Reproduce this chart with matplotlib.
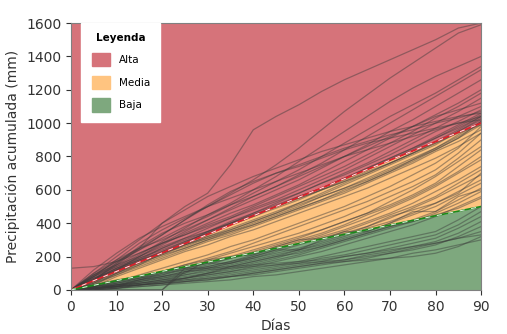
import numpy as np
import matplotlib
matplotlib.use("Agg")
from matplotlib import pyplot as plt
from matplotlib.patches import Patch

# days sampled every 5 days
dias = [0, 5, 10, 15, 20, 25, 30, 35, 40, 45, 50, 55, 60, 65, 70, 75, 80, 85, 90]

# boundaries between categories (mm)
limite_dias = [0, 90]
limite_media = [0, 1000]
limite_baja = [0, 500]

# cumulative precipitation traces (mm)
alta = [
    [0, 60, 150, 250, 400, 500, 580, 750, 960, 1040, 1110, 1190, 1260, 1320, 1380, 1440, 1500, 1570, 1600],
    [0, 80, 160, 240, 330, 420, 500, 580, 660, 750, 850, 960, 1070, 1170, 1270, 1360, 1450, 1540, 1590],
    [0, 70, 140, 210, 290, 370, 450, 520, 600, 680, 770, 860, 950, 1040, 1130, 1210, 1280, 1340, 1400],
    [0, 90, 170, 240, 310, 380, 440, 510, 580, 650, 720, 800, 880, 960, 1040, 1110, 1180, 1260, 1340],
    [0, 50, 120, 200, 280, 350, 420, 490, 560, 620, 690, 760, 840, 920, 1000, 1080, 1160, 1240, 1320],
    [0, 100, 180, 250, 300, 360, 420, 480, 540, 600, 660, 730, 800, 870, 950, 1020, 1100, 1180, 1260],
    [0, 60, 130, 200, 270, 340, 400, 460, 510, 570, 630, 700, 770, 840, 910, 980, 1050, 1120, 1200],
    [0, 80, 150, 220, 280, 330, 390, 440, 500, 560, 620, 680, 740, 810, 880, 950, 1030, 1100, 1180],
    [0, 50, 110, 180, 250, 310, 370, 430, 490, 540, 600, 660, 720, 790, 860, 930, 1000, 1070, 1150],
    [0, 40, 120, 190, 250, 300, 350, 400, 460, 520, 580, 640, 700, 760, 830, 900, 970, 1040, 1100],
    [130, 140, 170, 220, 280, 330, 380, 430, 480, 530, 580, 640, 690, 750, 810, 880, 950, 1010, 1080],
    [0, 60, 130, 180, 230, 290, 340, 400, 450, 500, 560, 610, 670, 730, 790, 850, 920, 990, 1060],
    [0, 80, 140, 190, 240, 290, 340, 390, 440, 490, 540, 600, 660, 720, 780, 840, 910, 980, 1050],
    [0, 50, 100, 160, 210, 270, 320, 370, 420, 470, 520, 580, 640, 700, 760, 820, 890, 960, 1040],
    [0, 70, 120, 170, 220, 270, 310, 360, 410, 460, 520, 570, 630, 690, 750, 810, 870, 950, 1020],
    [0, 30, 100, 150, 200, 250, 300, 350, 400, 450, 500, 560, 610, 670, 730, 790, 850, 920, 1000],
    [0, 60, 110, 160, 210, 250, 300, 340, 390, 440, 490, 540, 600, 650, 710, 770, 840, 910, 990],
    [0, 40, 90, 140, 190, 240, 290, 330, 380, 430, 480, 530, 580, 640, 700, 760, 830, 890, 960],
    [0, 20, 80, 130, 180, 230, 270, 320, 360, 410, 460, 510, 560, 610, 670, 730, 790, 860, 940],
    [0, 70, 130, 180, 220, 270, 320, 360, 410, 460, 510, 560, 610, 660, 720, 780, 840, 910, 1010],
    [0, 40, 100, 170, 230, 280, 330, 390, 440, 500, 550, 600, 650, 700, 760, 820, 880, 950, 1030],
    [0, 90, 150, 200, 260, 310, 350, 400, 450, 500, 550, 600, 650, 710, 760, 820, 880, 940, 990],
    [0, 30, 90, 150, 220, 280, 350, 410, 460, 510, 560, 610, 670, 730, 790, 850, 910, 970, 1040],
    [0, 60, 120, 170, 220, 260, 310, 350, 390, 440, 490, 540, 590, 650, 710, 780, 850, 930, 1010],
    [0, 100, 200, 300, 400, 480, 560, 620, 680, 730, 780, 830, 870, 910, 950, 980, 1010, 1040, 1060],
    [0, 80, 180, 280, 360, 430, 500, 570, 640, 700, 750, 800, 850, 890, 930, 960, 1000, 1030, 1070],
    [0, 120, 220, 310, 380, 440, 500, 550, 600, 650, 700, 750, 800, 840, 880, 920, 960, 1000, 1040],
    [0, 60, 160, 260, 340, 400, 450, 510, 560, 620, 680, 740, 800, 860, 920, 980, 1040, 1080, 1120],
    [0, 90, 170, 250, 330, 420, 510, 590, 650, 700, 740, 790, 840, 880, 910, 940, 970, 1000, 1020],
]
media = [
    [0, 20, 50, 90, 130, 170, 210, 260, 300, 350, 400, 450, 500, 560, 620, 690, 760, 850, 980],
    [0, 30, 60, 80, 110, 150, 190, 230, 280, 330, 380, 430, 480, 530, 590, 650, 720, 820, 940],
    [0, 10, 40, 70, 110, 150, 180, 220, 260, 300, 340, 390, 440, 500, 560, 620, 690, 790, 900],
    [0, 20, 40, 60, 100, 140, 170, 200, 240, 280, 320, 360, 410, 460, 530, 600, 680, 770, 860],
    [0, 30, 50, 80, 110, 130, 160, 190, 230, 270, 310, 360, 410, 460, 510, 570, 640, 740, 840],
    [0, 10, 30, 60, 90, 120, 150, 190, 220, 260, 300, 340, 390, 450, 500, 560, 630, 710, 800],
    [0, 20, 50, 70, 100, 120, 140, 170, 210, 250, 290, 330, 380, 430, 490, 550, 620, 700, 780],
    [0, 10, 30, 50, 80, 110, 140, 170, 200, 240, 280, 320, 360, 410, 460, 520, 590, 660, 740],
    [0, 20, 30, 60, 80, 110, 130, 160, 190, 230, 270, 310, 350, 400, 450, 500, 560, 640, 720],
    [0, 10, 20, 50, 70, 100, 130, 160, 190, 220, 250, 290, 330, 380, 430, 490, 550, 620, 690],
    [0, 0, 30, 50, 70, 90, 120, 150, 180, 210, 240, 280, 320, 370, 410, 460, 520, 590, 660],
    [0, 10, 20, 40, 60, 90, 110, 140, 170, 200, 240, 270, 310, 350, 400, 450, 500, 570, 640],
    [0, 20, 30, 40, 60, 80, 100, 130, 160, 190, 230, 260, 300, 340, 380, 420, 470, 540, 610],
    [0, 10, 20, 30, 50, 70, 100, 120, 150, 180, 210, 250, 290, 330, 370, 410, 460, 520, 590],
    [0, 10, 30, 40, 60, 70, 90, 110, 140, 170, 200, 230, 270, 310, 350, 390, 440, 500, 560],
    [0, 0, 10, 30, 40, 70, 100, 140, 170, 200, 220, 260, 300, 340, 380, 410, 450, 490, 550],
    [0, 20, 40, 70, 90, 130, 160, 160, 200, 240, 240, 300, 350, 350, 400, 470, 470, 560, 600],
    [0, 0, 20, 60, 80, 100, 180, 200, 210, 260, 300, 310, 340, 380, 440, 480, 520, 580, 700],
]
baja = [
    [0, 10, 20, 40, 50, 70, 90, 110, 130, 150, 170, 200, 230, 260, 290, 320, 350, 420, 500],
    [0, 10, 20, 30, 50, 60, 80, 100, 120, 140, 160, 190, 210, 240, 270, 300, 330, 390, 470],
    [0, 0, 10, 30, 40, 60, 70, 90, 110, 130, 150, 170, 200, 220, 250, 280, 310, 370, 440],
    [0, 10, 20, 30, 40, 50, 70, 80, 100, 120, 140, 160, 180, 210, 230, 260, 290, 340, 410],
    [0, 0, 10, 20, 30, 50, 60, 80, 90, 110, 130, 150, 170, 190, 220, 240, 270, 320, 380],
    [0, 0, 0, 0, 0, 130, 130, 140, 150, 160, 170, 180, 200, 220, 240, 260, 280, 310, 350],
    [0, 0, 0, 0, 0, 110, 120, 130, 140, 150, 160, 170, 180, 200, 220, 250, 280, 310, 330],
    [0, 10, 10, 20, 30, 40, 50, 60, 80, 90, 110, 130, 150, 170, 190, 220, 240, 270, 300],
    [0, 10, 20, 30, 40, 50, 60, 80, 100, 120, 140, 160, 170, 180, 190, 200, 220, 260, 320],
]

col_alta = "#d6737a"
col_media = "#ffc480"
col_baja = "#7ea87e"

fig = plt.figure(figsize=(5.07, 3.34), dpi=100)
ax = fig.add_axes([0.14, 0.132, 0.809, 0.799])

# coloured zones
ax.fill_between(limite_dias, limite_media, 1600, color=col_alta, lw=0)
ax.fill_between(limite_dias, limite_baja, limite_media, color=col_media, lw=0)
ax.fill_between(limite_dias, 0, limite_baja, color=col_baja, lw=0)

for t in alta + media + baja:
    ax.plot(dias, t, color="#3a3a3a", alpha=0.45, lw=0.9)

# boundary lines
ax.plot(limite_dias, limite_media, color="#e0202a", lw=1.2)
ax.plot(limite_dias, limite_media, color="white", lw=0.6, ls="--", dashes=(6, 8))
ax.plot(limite_dias, limite_baja, color="#1a8a1a", lw=1.2)
ax.plot(limite_dias, limite_baja, color="white", lw=0.6, ls="--", dashes=(6, 8))

ax.set_xlim(0, 90)
ax.set_ylim(0, 1600)
ax.set_xticks(range(0, 91, 10))
ax.set_yticks(range(0, 1601, 200))
ax.tick_params(labelsize=10, colors="#333333", length=3.5)
for s in ax.spines.values():
    s.set_color("#808080")
ax.set_xlabel("Días", fontsize=10, color="#333333")
ax.set_ylabel("Precipitación acumulada (mm)", fontsize=10, color="#333333")

handles = [Patch(color=col_alta, label="Alta"),
           Patch(color=col_media, label="Media"),
           Patch(color=col_baja, label="Baja")]
leg = ax.legend(handles=handles, title="Leyenda", loc="upper left",
                bbox_to_anchor=(0.025, 1.0), borderaxespad=0, fancybox=False,
                framealpha=1, edgecolor="white", fontsize=7.5,
                title_fontproperties={"weight": "bold", "size": 7.5},
                handlelength=1.8, handleheight=1.6, labelspacing=0.9,
                borderpad=1.0)
leg.set_zorder(5)

fig.savefig("out.png", dpi=100)
